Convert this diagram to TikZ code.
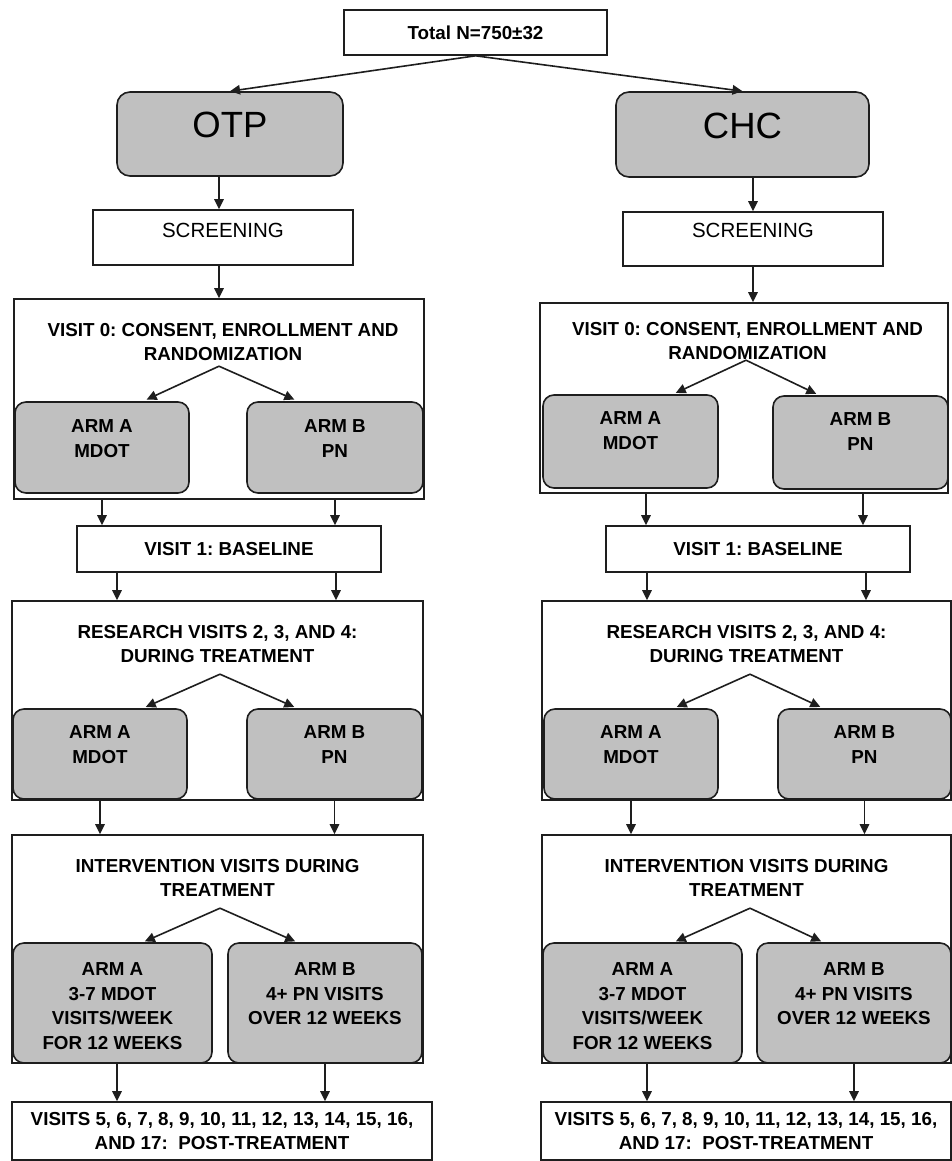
\documentclass[tikz,border=0pt]{standalone}
\usepackage{fontspec}
\setmainfont{Liberation Sans}
\frenchspacing
\usetikzlibrary{arrows.meta, positioning, calc}
\definecolor{ArmGray}{RGB}{192, 192, 192}
\definecolor{EdgeDark}{RGB}{30, 30, 30}

\begin{document}
\begin{tikzpicture}[x=1pt, y=-1pt, line width=1.6pt,
  txt/.style={font=\fontsize{18.8}{24.5}\selectfont\bfseries},
  bx/.style={draw=EdgeDark, fill=white, inner sep=0pt},
  arm/.style={draw=EdgeDark, fill=ArmGray, rounded corners=11pt, inner sep=0pt},
  lbl/.style={txt, anchor=north, inner sep=0pt, align=center},
  big/.style={font=\fontsize{36.5}{40}\selectfont},
  med/.style={font=\fontsize{20.5}{24}\selectfont},
  ar/.style={-{Triangle[length=10pt, width=9.5pt]}, draw=EdgeDark}]
\useasboundingbox (0,0) rectangle (952,1161);
% top
\node[bx, txt, minimum width=263, minimum height=45] (tot) at (475.5,32.5) {Total N=750±32};
\node[arm, rounded corners=13pt, minimum width=226, minimum height=84, label={[lbl, big, yshift=-20]north:OTP}] (otp) at (230,134) {};
\node[arm, rounded corners=13pt, minimum width=253, minimum height=85, label={[lbl, big, yshift=-21]north:CHC}] (chc) at (742.5,134.5) {};
\node[bx, minimum width=260, minimum height=55, label={[lbl, med, yshift=-13]north:SCREENING}] (scrL) at (223,237.5) {};
\node[bx, minimum width=260, minimum height=54, label={[lbl, med, yshift=-11]north:SCREENING}] (scrR) at (753,239) {};
% left column
\node[bx, minimum width=410, minimum height=200, label={[lbl, yshift=-24, xshift=4]north:{VISIT 0: CONSENT, ENROLLMENT AND\\RANDOMIZATION}}] (v0L) at (219,399) {};
\node[arm, minimum width=174, minimum height=91, label={[lbl, yshift=-18]north:{ARM A\\MDOT}}] (aA0) at (102,447.5) {};
\node[arm, minimum width=176, minimum height=91, label={[lbl, yshift=-18]north:{ARM B\\PN}}] (aB0) at (335,447.5) {};
\node[bx, txt, minimum width=304, minimum height=46] (v1L) at (229,549) {VISIT 1: BASELINE};
\node[bx, minimum width=411, minimum height=199, label={[lbl, yshift=-24]north:{RESEARCH VISITS 2, 3, AND 4:\\DURING TREATMENT}}] (rL) at (217.5,700.5) {};
\node[arm, minimum width=174, minimum height=90, label={[lbl, yshift=-17]north:{ARM A\\MDOT}}] (rA) at (100,754) {};
\node[arm, minimum width=175, minimum height=90, label={[lbl, yshift=-17]north:{ARM B\\PN}}] (rB) at (334.5,754) {};
\node[bx, minimum width=411, minimum height=228, label={[lbl, yshift=-24]north:{INTERVENTION VISITS DURING\\TREATMENT}}] (iL) at (217.5,949) {};
\node[arm, minimum width=199, minimum height=120, label={[lbl, yshift=-20]north:{ARM A\\3-7 MDOT\\VISITS/WEEK\\FOR 12 WEEKS}}] (iA) at (112.5,1003) {};
\node[arm, minimum width=194, minimum height=120, label={[lbl, yshift=-20]north:{ARM B\\4+ PN VISITS\\OVER 12 WEEKS}}] (iB) at (325,1003) {};
\node[bx, txt, align=center, minimum width=420, minimum height=58] (fL) at (222,1131) {VISITS 5, 6, 7, 8, 9, 10, 11, 12, 13, 14, 15, 16,\\AND 17: \ POST-TREATMENT};
% right column
\node[bx, minimum width=408, minimum height=190, label={[lbl, yshift=-19, xshift=3.5]north:{VISIT 0: CONSENT, ENROLLMENT AND\\RANDOMIZATION}}] (v0R) at (744,398) {};
\node[arm, minimum width=175, minimum height=93, label={[lbl, yshift=-17]north:{ARM A\\MDOT}}] (aA0R) at (630.5,441.5) {};
\node[arm, minimum width=175, minimum height=93, label={[lbl, yshift=-17]north:{ARM B\\PN}}] (aB0R) at (860.5,442.5) {};
\node[bx, txt, minimum width=304, minimum height=46] (v1R) at (758,549) {VISIT 1: BASELINE};
\node[bx, minimum width=409, minimum height=199, label={[lbl, yshift=-24]north:{RESEARCH VISITS 2, 3, AND 4:\\DURING TREATMENT}}] (rR) at (746.5,700.5) {};
\node[arm, minimum width=174, minimum height=90, label={[lbl, yshift=-17]north:{ARM A\\MDOT}}] (rAR) at (631,754) {};
\node[arm, minimum width=173, minimum height=90, label={[lbl, yshift=-17]north:{ARM B\\PN}}] (rBR) at (864.5,754) {};
\node[bx, minimum width=409, minimum height=228, label={[lbl, yshift=-24]north:{INTERVENTION VISITS DURING\\TREATMENT}}] (iR) at (746.5,949) {};
\node[arm, minimum width=199, minimum height=120, label={[lbl, yshift=-20]north:{ARM A\\3-7 MDOT\\VISITS/WEEK\\FOR 12 WEEKS}}] (iAR) at (642.5,1003) {};
\node[arm, minimum width=194, minimum height=120, label={[lbl, yshift=-20]north:{ARM B\\4+ PN VISITS\\OVER 12 WEEKS}}] (iBR) at (854,1003) {};
\node[bx, txt, align=center, minimum width=410, minimum height=58] (fR) at (746,1131) {VISITS 5, 6, 7, 8, 9, 10, 11, 12, 13, 14, 15, 16,\\AND 17: \ POST-TREATMENT};
% branch points
\coordinate (s0L) at ([yshift=-68]v0L.north);
\coordinate (s1L) at ([xshift=2.5, yshift=-74]rL.north);
\coordinate (s2L) at ([xshift=2.5, yshift=-74]iL.north);
\coordinate (s0R) at ([xshift=2, yshift=-58]v0R.north);
\coordinate (s1R) at ([xshift=3.5, yshift=-74]rR.north);
\coordinate (s2R) at ([xshift=3.5, yshift=-74]iR.north);
% connectors
\draw[ar] (tot.south) -- (otp.north); \draw[ar] (tot.south) -- (chc.north);
\draw[ar] (otp.south -| v0L.north) -- (scrL.north -| v0L.north); \draw[ar] (scrL.south -| v0L.north) -- (v0L.north);
\draw[ar] (chc.south -| scrR.north) -- (scrR.north); \draw[ar] (scrR.south) -- (scrR.south |- v0R.north);
\draw[ar, shorten >=4pt] (s0L) -- ([xshift=41]aA0.north); \draw[ar, shorten >=4pt] (s0L) -- ([xshift=-37]aB0.north);
\draw[ar] (aA0.south |- v0L.south) -- (aA0.south |- v1L.north); \draw[ar] (aB0.south |- v0L.south) -- (aB0.south |- v1L.north);
\draw[ar] ([xshift=-112]v1L.south) -- ([xshift=-112]v1L.south |- rL.north); \draw[ar] ([xshift=107]v1L.south) -- ([xshift=107]v1L.south |- rL.north);
\draw[ar, shorten >=3pt] (s1L) -- ([xshift=43]rA.north); \draw[ar, shorten >=3pt] (s1L) -- ([xshift=-37.5]rB.north);
\draw[ar] (rA.south) -- (rA.south |- iL.north); \draw[ar] (rB.south) -- (rB.south |- iL.north);
\draw[ar, shorten >=2pt] (s2L) -- ([xshift=30.5]iA.north); \draw[ar, shorten >=2pt] (s2L) -- ([xshift=-28]iB.north);
\draw[ar] ([xshift=4.5]iA.south) -- ([xshift=4.5]iA.south |- fL.north); \draw[ar] (iB.south) -- (iB.south |- fL.north);
\draw[ar, shorten >=3pt] (s0R) -- ([xshift=42.5]aA0R.north); \draw[ar, shorten >=3pt] (s0R) -- ([xshift=-41.5]aB0R.north);
\draw[ar] ([xshift=15.5]aA0R.south |- v0R.south) -- ([xshift=15.5]aA0R.south |- v1R.north); \draw[ar] ([xshift=2.5]aB0R.south |- v0R.south) -- ([xshift=2.5]aB0R.south |- v1R.north);
\draw[ar] ([xshift=-111]v1R.south) -- ([xshift=-111]v1R.south |- rR.north); \draw[ar] ([xshift=108]v1R.south) -- ([xshift=108]v1R.south |- rR.north);
\draw[ar, shorten >=3pt] (s1R) -- ([xshift=43]rAR.north); \draw[ar, shorten >=3pt] (s1R) -- ([xshift=-41.5]rBR.north);
\draw[ar] (rAR.south) -- (rAR.south |- iR.north); \draw[ar] (rBR.south) -- (rBR.south |- iR.north);
\draw[ar, shorten >=2pt] (s2R) -- ([xshift=31.5]iAR.north); \draw[ar, shorten >=2pt] (s2R) -- ([xshift=-31]iBR.north);
\draw[ar] ([xshift=4.5]iAR.south) -- ([xshift=4.5]iAR.south |- fR.north); \draw[ar] (iBR.south) -- (iBR.south |- fR.north);
\end{tikzpicture}
\end{document}
